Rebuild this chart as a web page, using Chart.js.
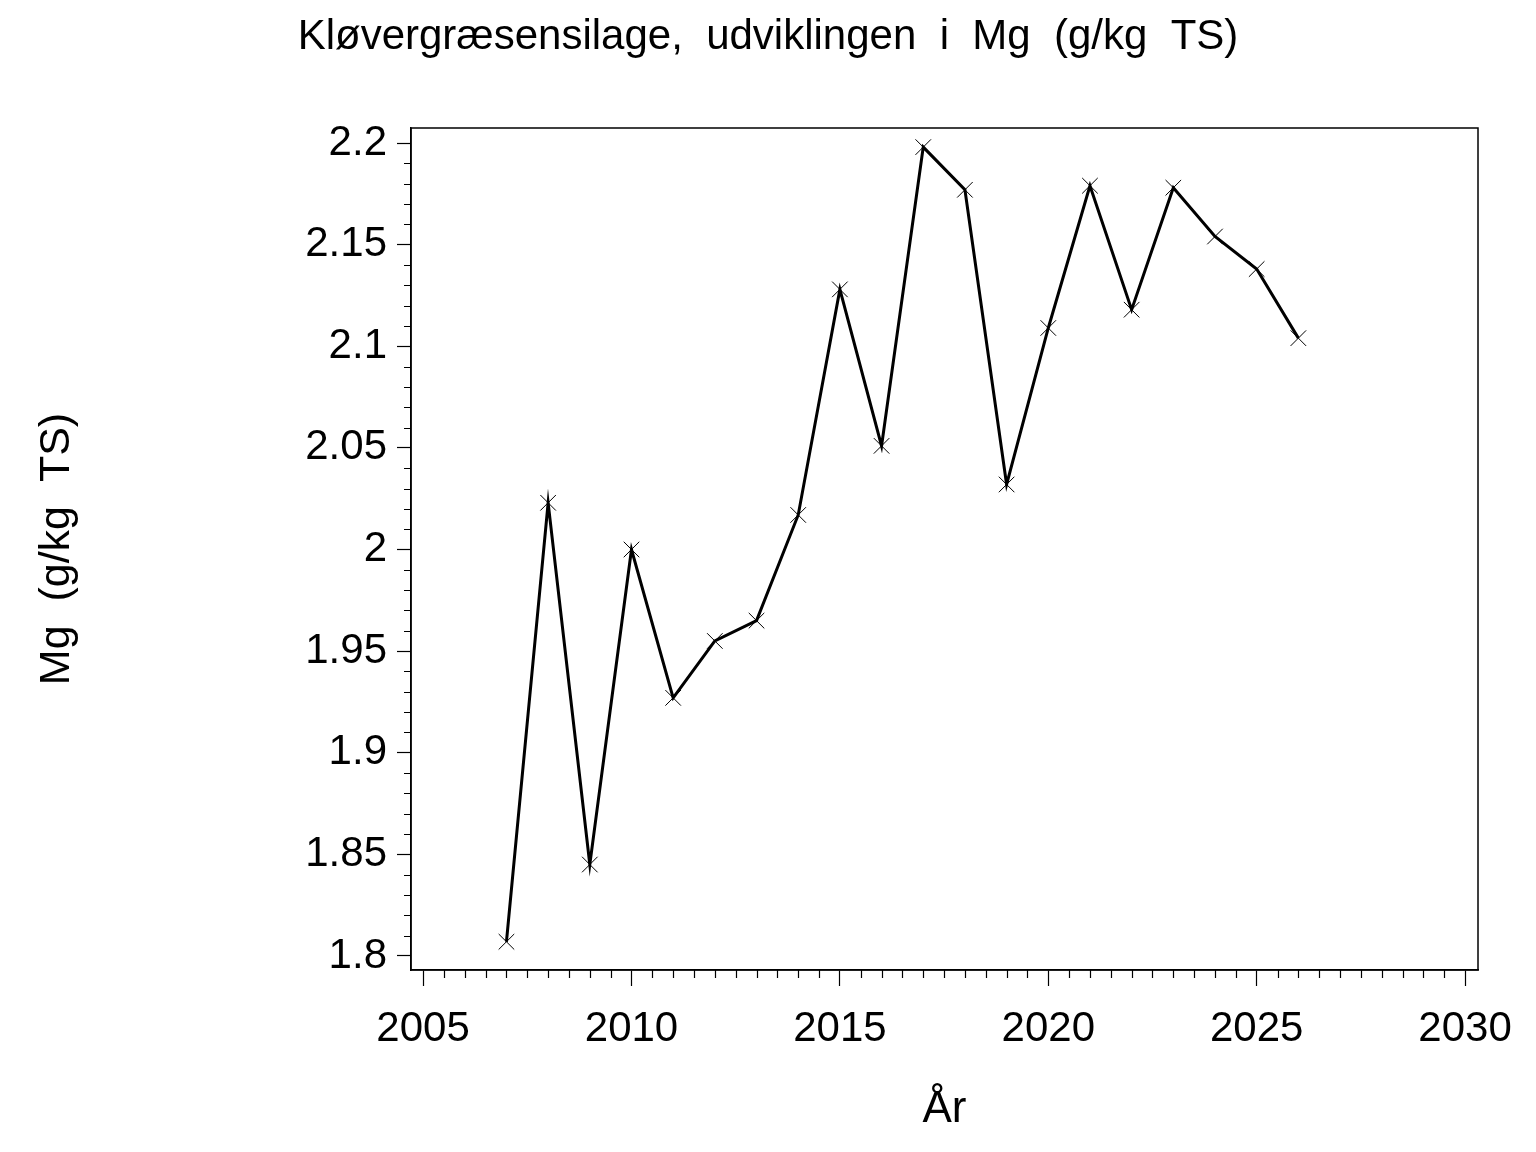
<!DOCTYPE html>
<html>
<head>
<meta charset="utf-8">
<script src="https://cdn.jsdelivr.net/npm/chart.js@4/dist/chart.umd.min.js"></script>
<style>
  html, body { margin: 0; padding: 0; background: #fff; }
  #wrap { width: 1536px; height: 1152px; }
</style>
</head>
<body>
<div id="wrap"><canvas id="canvas" width="1536" height="1152"></canvas></div>
<script>
// data
const years = [2007, 2008, 2009, 2010, 2011, 2012, 2013, 2014, 2015, 2016, 2017, 2018, 2019, 2020, 2021, 2022, 2023, 2024, 2025, 2026];
const mg = [1.807, 2.023, 1.845, 2.000, 1.927, 1.955, 1.965, 2.017, 2.128, 2.051, 2.198, 2.177, 2.032, 2.109, 2.179, 2.118, 2.178, 2.154, 2.138, 2.104];

const xTicks = [2005, 2010, 2015, 2020, 2025, 2030];
const yTicks = [1.8, 1.85, 1.9, 1.95, 2.0, 2.05, 2.1, 2.15, 2.2];

const titleText = 'Kløvergræsensilage,  udviklingen  i  Mg  (g/kg  TS)';
const yTitle = 'Mg  (g/kg  TS)';
const xTitle = 'År';

const FONT = "'Liberation Sans', Arial, Helvetica, sans-serif";

// frame + minor ticks, like the SAS plot
const framePlugin = {
    id: 'frame',
    afterDraw(chart) {
        const { ctx, chartArea: a, scales: { x, y } } = chart;
        ctx.save();
        ctx.strokeStyle = '#000';
        ctx.lineWidth = 1.5;
        ctx.strokeRect(a.left, a.top, a.right - a.left, a.bottom - a.top);
        ctx.lineWidth = 1.2;
        ctx.beginPath();
        for (let i = 0; i <= 40; i++) {
            if (i % 5 === 0) continue;
            const py = Math.round(y.getPixelForValue(1.8 + i * 0.01)) + 0.5;
            ctx.moveTo(a.left - 7, py);
            ctx.lineTo(a.left, py);
        }
        for (let i = 0; i <= 50; i++) {
            if (i % 10 === 0) continue;
            const px = Math.round(x.getPixelForValue(2005 + i * 0.5)) + 0.5;
            ctx.moveTo(px, a.bottom);
            ctx.lineTo(px, a.bottom + 8);
        }
        ctx.stroke();
        ctx.restore();
    }
};

const ctx = document.getElementById('canvas').getContext('2d');

const config = {
    type: 'line',
    data: {
        datasets: [{
            data: years.map((yr, i) => ({ x: yr, y: mg[i] })),
            borderColor: '#000',
            borderWidth: 3,
            tension: 0,
            pointStyle: 'crossRot',
            pointRadius: 11,
            pointBorderWidth: 1,
            pointBorderColor: '#000',
            pointBackgroundColor: '#000'
        }]
    },
    options: {
        responsive: false,
        animation: false,
        layout: { padding: 0 },
        plugins: {
            legend: { display: false },
            tooltip: { enabled: false },
            title: {
                display: true,
                text: titleText,
                color: '#000',
                font: { family: FONT, size: 42, weight: 'normal' },
                padding: { top: 12, bottom: 65.6 }
            }
        },
        scales: {
            x: {
                type: 'linear',
                min: 2004.71,
                max: 2030.31,
                afterBuildTicks: s => { s.ticks = xTicks.map(v => ({ value: v })); },
                afterFit: s => { s.height = 182; },
                grid: { drawOnChartArea: false, tickLength: 16, tickColor: '#000', tickWidth: 1.2 },
                border: { display: true, color: '#000', width: 1.5 },
                ticks: {
                    color: '#000',
                    padding: 18,
                    maxRotation: 0,
                    font: { family: FONT, size: 42 },
                    callback: v => String(v)
                },
                title: {
                    display: true,
                    text: xTitle,
                    color: '#000',
                    font: { family: FONT, size: 44 },
                    padding: { top: 0, bottom: 16 }
                }
            },
            y: {
                min: 1.7931,
                max: 2.2074,
                afterBuildTicks: s => { s.ticks = yTicks.map(v => ({ value: v })); },
                afterFit: s => { s.width = 411; },
                grid: { drawOnChartArea: false, tickLength: 14, tickColor: '#000', tickWidth: 1.2 },
                border: { display: true, color: '#000', width: 1.5 },
                ticks: {
                    color: '#000',
                    padding: 10,
                    font: { family: FONT, size: 42 },
                    callback: v => String(Math.round(v * 100) / 100)
                },
                title: {
                    display: true,
                    text: yTitle,
                    color: '#000',
                    font: { family: FONT, size: 43 },
                    padding: { top: 31, bottom: 0 }
                }
            },
            // empty right margin so the title centres on the whole page
            yRight: {
                position: 'right',
                min: 0,
                max: 1,
                afterFit: s => { s.width = 58; },
                grid: { display: false },
                border: { display: false },
                ticks: { display: false }
            }
        }
    },
    plugins: [framePlugin]
};

new Chart(ctx, config);
</script>
</body>
</html>
